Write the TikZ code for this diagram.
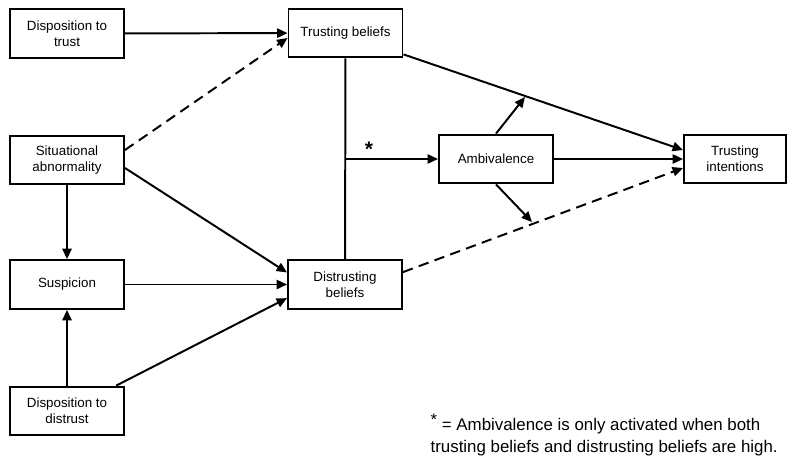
\documentclass[tikz,border=0pt]{standalone}
\usepackage{fontspec}
\setmainfont{Liberation Sans}
\usetikzlibrary{arrows.meta}
\begin{document}
\begin{tikzpicture}[x=0.25mm, y=-0.25mm, line width=1.4pt,
		main/.style = {draw, rectangle, minimum width=28.5mm, minimum height=12.2mm, align=center, font=\fontsize{9.5}{11.2}\selectfont},
		link/.style = {-{Triangle[length=2.6mm, width=2.3mm]}},
		dashline/.style = {dash pattern=on 2.6mm off 1.6mm}]

		\useasboundingbox (0,0) rectangle (788,460);

		\node[main] (dt) at (67,33.5) {Disposition to\\trust};
		\node[main] (tb) at (345.5,33) {Trusting beliefs};
		\node[main] (sa) at (67,160) {Situational\\abnormality};
		\node[main] (su) at (67,284.5) {Suspicion};
		\node[main] (dd) at (67,411) {Disposition to\\distrust};
		\node[main] (db) at (345,284.5) {Distrusting\\beliefs};
		\node[main] (am) at (496,159) {Ambivalence};
		\node[main, minimum width=25.5mm] (ti) at (735,159) {Trusting\\intentions};

		\coordinate (j) at (345,159);
		\coordinate (up) at (525,97);
		\coordinate (dn) at (532,222);
		\node[font=\fontsize{15}{15}\selectfont\bfseries] (star) at (369,149) {*};

		\draw[link] (dt) to (tb);
		\draw[link, dashline] ([yshift=2.5mm]sa.east) to ([yshift=-1.25mm]tb.west);
		\draw[link] ([yshift=-2mm]sa.east) to ([yshift=3mm]db.west);
		\draw[link] (sa) to (su);
		\draw[link] (su) to (db);
		\draw[link] (dd) to (su);
		\draw[link] ([xshift=-2.2mm]dd.north east) to ([yshift=-3.4mm]db.west);
		\draw (tb) to (db);
		\draw[link] (j) to (am);
		\draw[link] ([yshift=1mm]tb.south east) to ([yshift=2.25mm]ti.west);
		\draw[link] (am) to (ti);
		\draw[link, dashline] ([yshift=3.1mm]db.east) to ([yshift=-2.25mm]ti.west);
		\draw[link] (am.north) to (up);
		\draw[link] (am.south) to (dn);

		% footnote
		\node[anchor=base west, align=left, font=\fontsize{12}{15.6}\selectfont] (note) at (425,452)
			{\raisebox{0.5ex}{*} = Ambivalence is only activated when both\\trusting beliefs and distrusting beliefs are high.};
	\end{tikzpicture}
\end{document}
